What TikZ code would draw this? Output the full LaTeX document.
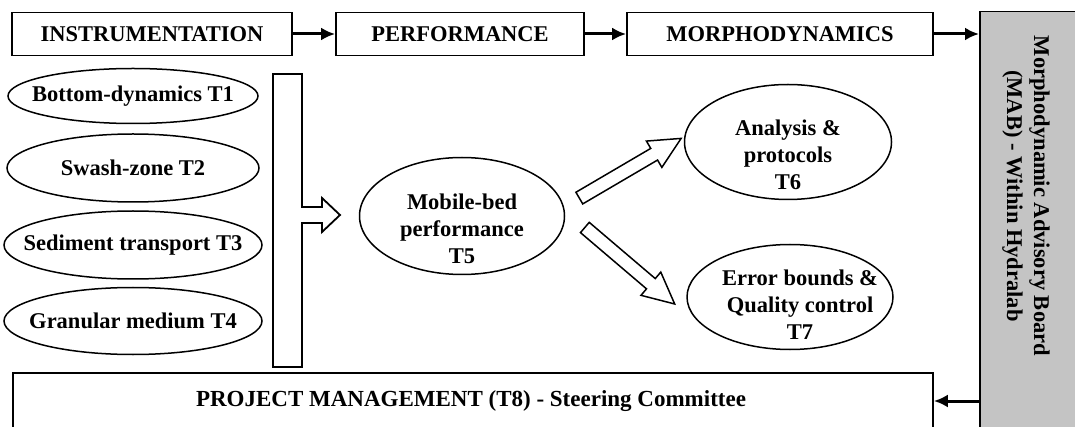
\documentclass[tikz,border=0pt]{standalone}
\usepackage{fontspec}
\setmainfont{Liberation Serif}
\usetikzlibrary{shapes.geometric,shapes.arrows,arrows.meta,calc}

\definecolor{boardgray}{gray}{0.77}

\begin{document}
\begin{tikzpicture}[x=1pt,y=-1pt,
  txt/.style={font=\bfseries\fontsize{22.5}{27}\selectfont, align=center, inner sep=0pt},
  phase/.style={txt, draw, line width=1.8pt, minimum height=43pt},
  task/.style={draw, ellipse, line width=1.5pt, inner sep=0pt},
  flow/.style={line width=3pt, -{Latex[length=14pt,width=13pt]}},
  fat/.style={draw, fill=white, line width=1.5pt, single arrow, inner xsep=0pt, inner ysep=6pt,
    single arrow head extend=8.5pt, single arrow tip angle=52, minimum height=118pt}]
\useasboundingbox (0,0) rectangle (1075,427);
\clip (0,0) rectangle (1075,427);

% work packages along the top
\node[phase, minimum width=280pt] (instr) at (152,34) {INSTRUMENTATION};
\node[phase, minimum width=248pt] (perf) at (460,34) {PERFORMANCE};
\node[phase, minimum width=306pt] (morph) at (780,34) {MORPHODYNAMICS};

% advisory board on the right
\node[draw, fill=boardgray, line width=1.5pt, anchor=north west, inner sep=0pt,
  minimum width=120pt, minimum height=440pt] (mab) at (979,11) {};
\node[txt, rotate=-90] (mabtxt) at (1026,196)
  {Morphodynamic Advisory Board\\(MAB) - Within Hydralab};

\draw[flow] (instr) -- (perf);
\draw[flow] (perf) -- (morph);
\draw[flow] (morph) -- (morph -| mab.west);

% instrumentation tasks
\foreach \n/\y/\w/\h/\lbl in {1/96/250/55/Bottom-dynamics T1,
    2/168/252/68/Swash-zone T2,
    3/245/258/68/Sediment transport T3,
    4/321/258/67/Granular medium T4} {
  \node[task, minimum width=\w pt, minimum height=\h pt] (t\n) at (133,\y) {};
  \node[txt] (t\n txt) at (t\n) {\lbl};
}

% collecting bar
\draw[line width=1.8pt, fill=white] (273,74) -- (302,74) -- (302,207) -- (322,207)
  -- (322,198) -- (340,215) -- (322,232) -- (322,223) -- (302,223) -- (302,367)
  -- (273,367) -- cycle;

% performance tasks
\node[task, minimum width=205pt, minimum height=117pt] (t5) at (462,216) {};
\node[txt] (t5txt) at ([yshift=-13pt]t5.center) {Mobile-bed\\performance\\T5};

\node[task, minimum width=207pt, minimum height=115pt] (t6) at (788,142) {};
\node[txt] (t6txt) at ([yshift=-13pt]t6.center) {Analysis \&\\protocols\\T6};

\node[task, minimum width=206pt, minimum height=105pt] (t7) at (790,297) {};
\node[txt] (t7txt) at ([xshift=10pt,yshift=-8pt]t7.center) {Error bounds \&\\Quality control\\T7};

\coordinate (up0) at (573.5,201.5);
\coordinate (up1) at (675,142);
\coordinate (dn0) at (579,222.5);
\coordinate (dn1) at (670,300);
\path (up0) -- node[fat, sloped] (toT6) {} (up1);
\path (dn0) -- node[fat, sloped] (toT7) {} (dn1);

% project management
\node[draw, line width=1.8pt, anchor=north west, inner sep=0pt,
  minimum width=920pt, minimum height=80pt] (pm) at (12,372) {};
\node[txt, font=\bfseries\fontsize{23}{27}\selectfont] (pmtxt) at (471,401)
  {PROJECT MANAGEMENT (T8) - Steering Committee};
\draw[flow] (mab.west |- pmtxt) -- (pm.east |- pmtxt);
\end{tikzpicture}
\end{document}
